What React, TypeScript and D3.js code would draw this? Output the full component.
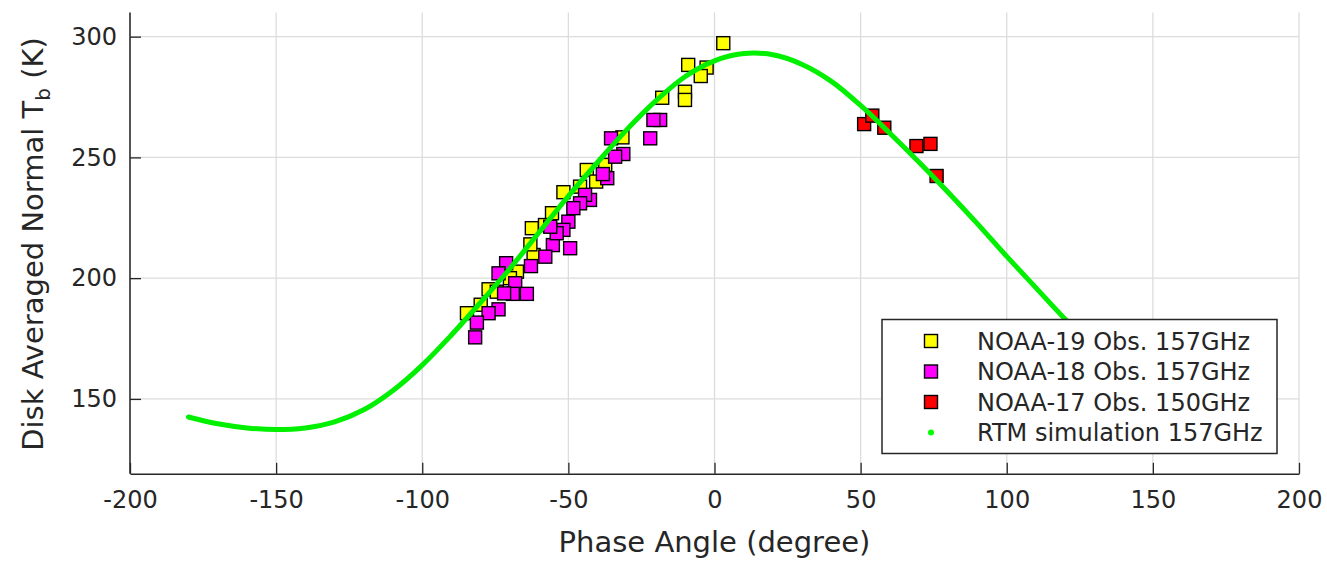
import React, { useEffect, useRef } from 'react';
import * as d3 from 'd3';

// phase angle (deg) / disk averaged Tb (K)
const noaa19Angle = [3, -9, -2.7, -4.7, -10.1, -10.1, -17.9, -31.5, -43.7, -37.4, -40.5, -46, -51.7, -62.5, -61.9, -67.6, -77.3, -74.5, -84.7, -55.6, -58, -63, -70, -80];
const noaa19Tb = [297.3, 288.3, 287.2, 283.7, 277.2, 273.8, 274.7, 258.3, 244.8, 246.9, 240, 237.9, 235.6, 220.7, 209.6, 202.7, 195.4, 194.4, 185.5, 226.9, 222, 214, 200, 189];

const noaa18Angle = [-18.6, -20.9, -22, -35.4, -31.2, -34, -36.7, -38.2, -42.6, -44.3, -46, -48.3, -50, -51.7, -49.4, -55.3, -54, -56.2, -57.9, -62.8, -71.3, -73.9, -68.2, -69, -64.2, -72, -73.9, -77.3, -81.3, -81.9];
const noaa18Tb = [265.5, 265.5, 257.9, 257.9, 251.4, 250.3, 241.4, 243.1, 232.4, 234.5, 231, 229, 223.4, 220, 212.4, 213.7, 218.6, 221.3, 208.9, 205, 206.2, 202, 197.9, 193.5, 193.5, 193.7, 187.1, 185.5, 181.6, 175.5];

const noaa17Angle = [51.2, 54, 58.1, 69.1, 73.9, 76];
const noaa17Tb = [263.8, 267.3, 262.3, 254.7, 255.6, 242.3];

const rtmAngle = [-180, -170, -160, -150, -140, -130, -120, -110, -100, -90, -80, -70, -60, -50, -40, -30, -20, -10, 0, 10, 20, 30, 40, 50, 60, 70, 80, 90, 100, 110, 120, 130, 140, 150, 160, 170, 180];
const rtmTb = [142.5, 139.7, 138, 137.3, 138, 140.5, 145.5, 153.5, 164, 176.5, 190, 204, 219, 234, 248, 261.5, 273.5, 283.5, 290, 293, 292.5, 288.5, 281.5, 271.5, 260, 248, 235.5, 222.5, 209, 196, 183, 171, 160, 151, 145, 142, 142.4];

const xTicks = [-200, -150, -100, -50, 0, 50, 100, 150, 200];
const yTicks = [150, 200, 250, 300];

const legendLabels = ['NOAA-19 Obs. 157GHz', 'NOAA-18 Obs. 157GHz', 'NOAA-17 Obs. 150GHz', 'RTM simulation 157GHz'];
const legendColors = ['#ffff00', '#ff00ff', '#ff0000', '#00ff00'];

const App = () => {
  const ref = useRef<SVGSVGElement>(null);

  useEffect(() => {
    const svg = d3.select(ref.current);
    svg.selectAll('*').remove();

    const x = d3.scaleLinear().domain([-200, 200]).range([130, 1299]);
    const y = d3.scaleLinear().domain([119, 310]).range([473.8, 12.5]);
    const font = 'DejaVu Sans, sans-serif';
    const axisColor = '#262626';

    // grid
    const grid = svg.append('g').attr('stroke', '#dcdcdc').attr('stroke-width', 1.3);
    grid.selectAll('.gx').data(xTicks).enter().append('line')
      .attr('x1', d => x(d)).attr('x2', d => x(d))
      .attr('y1', y(119)).attr('y2', y(310));
    grid.selectAll('.gy').data(yTicks).enter().append('line')
      .attr('x1', x(-200)).attr('x2', x(200))
      .attr('y1', d => y(d)).attr('y2', d => y(d));

    // axes
    const xAxis = svg.append('g').attr('transform', 'translate(0,' + y(119) + ')')
      .call(d3.axisBottom(x).tickValues(xTicks).tickFormat(d => String(d)).tickSizeInner(-11).tickSizeOuter(0).tickPadding(17));
    const yAxis = svg.append('g').attr('transform', 'translate(' + x(-200) + ',0)')
      .call(d3.axisLeft(y).tickValues(yTicks).tickFormat(d => String(d)).tickSizeInner(-11).tickSizeOuter(0).tickPadding(13));
    [xAxis, yAxis].forEach(a => {
      a.select('.domain').attr('stroke', axisColor).attr('stroke-width', 1.5);
      a.selectAll('.tick line').attr('stroke', axisColor).attr('stroke-width', 1.3);
      a.selectAll('.tick text').attr('fill', axisColor).attr('font-family', font).attr('font-size', 24);
    });
    yAxis.select('.domain').attr('d', 'M0,' + y(119) + 'V' + y(310));

    // markers
    const series = [
      { ax: noaa19Angle, tb: noaa19Tb, color: legendColors[0] },
      { ax: noaa18Angle, tb: noaa18Tb, color: legendColors[1] },
      { ax: noaa17Angle, tb: noaa17Tb, color: legendColors[2] },
    ];
    const s = 13;
    series.forEach(sr => {
      svg.append('g').selectAll('rect').data(sr.ax).enter().append('rect')
        .attr('x', d => x(d) - s / 2)
        .attr('y', (d, i) => y(sr.tb[i]) - s / 2)
        .attr('width', s).attr('height', s)
        .attr('fill', sr.color).attr('stroke', '#000').attr('stroke-width', 1.4);
    });

    // RTM curve
    const line = d3.line<number>()
      .x(d => x(d))
      .y((d, i) => y(rtmTb[i]))
      .curve(d3.curveCatmullRom);
    svg.append('path').attr('d', line(rtmAngle))
      .attr('fill', 'none').attr('stroke', '#00f000').attr('stroke-width', 5).attr('stroke-linecap', 'round');

    // labels
    svg.append('text').attr('x', x(0)).attr('y', 552)
      .attr('text-anchor', 'middle').attr('font-family', font).attr('font-size', 29).attr('fill', axisColor)
      .text('Phase Angle (degree)');
    const yl = svg.append('text').attr('transform', 'translate(43,244) rotate(-90)')
      .attr('text-anchor', 'middle').attr('font-family', font).attr('font-size', 29).attr('fill', axisColor);
    yl.append('tspan').text('Disk Averaged Normal T');
    yl.append('tspan').attr('font-size', 20).attr('dy', 7).text('b');
    yl.append('tspan').attr('dy', -7).text(' (K)');

    // legend
    const lg = svg.append('g');
    lg.append('rect').attr('x', 882).attr('y', 319.5).attr('width', 395).attr('height', 134)
      .attr('fill', '#fff').attr('stroke', axisColor).attr('stroke-width', 1.5);
    const rowY = [341, 371.5, 402, 432.5];
    legendLabels.forEach((t, i) => {
      if (i < 3) {
        lg.append('rect').attr('x', 931 - 6.5).attr('y', rowY[i] - 6.5).attr('width', 13).attr('height', 13)
          .attr('fill', legendColors[i]).attr('stroke', '#000').attr('stroke-width', 1.4);
      } else {
        lg.append('circle').attr('cx', 931).attr('cy', rowY[i]).attr('r', 3).attr('fill', legendColors[i]);
      }
      lg.append('text').attr('x', 977).attr('y', rowY[i]).attr('dy', '0.36em')
        .attr('font-family', font).attr('font-size', 24).attr('fill', axisColor).text(t);
    });
  }, []);

  return (
    <svg ref={ref} width={1327} height={564}
      style={{ position: 'absolute', left: 0, top: 0, background: '#fff' }} />
  );
};

export default App;
